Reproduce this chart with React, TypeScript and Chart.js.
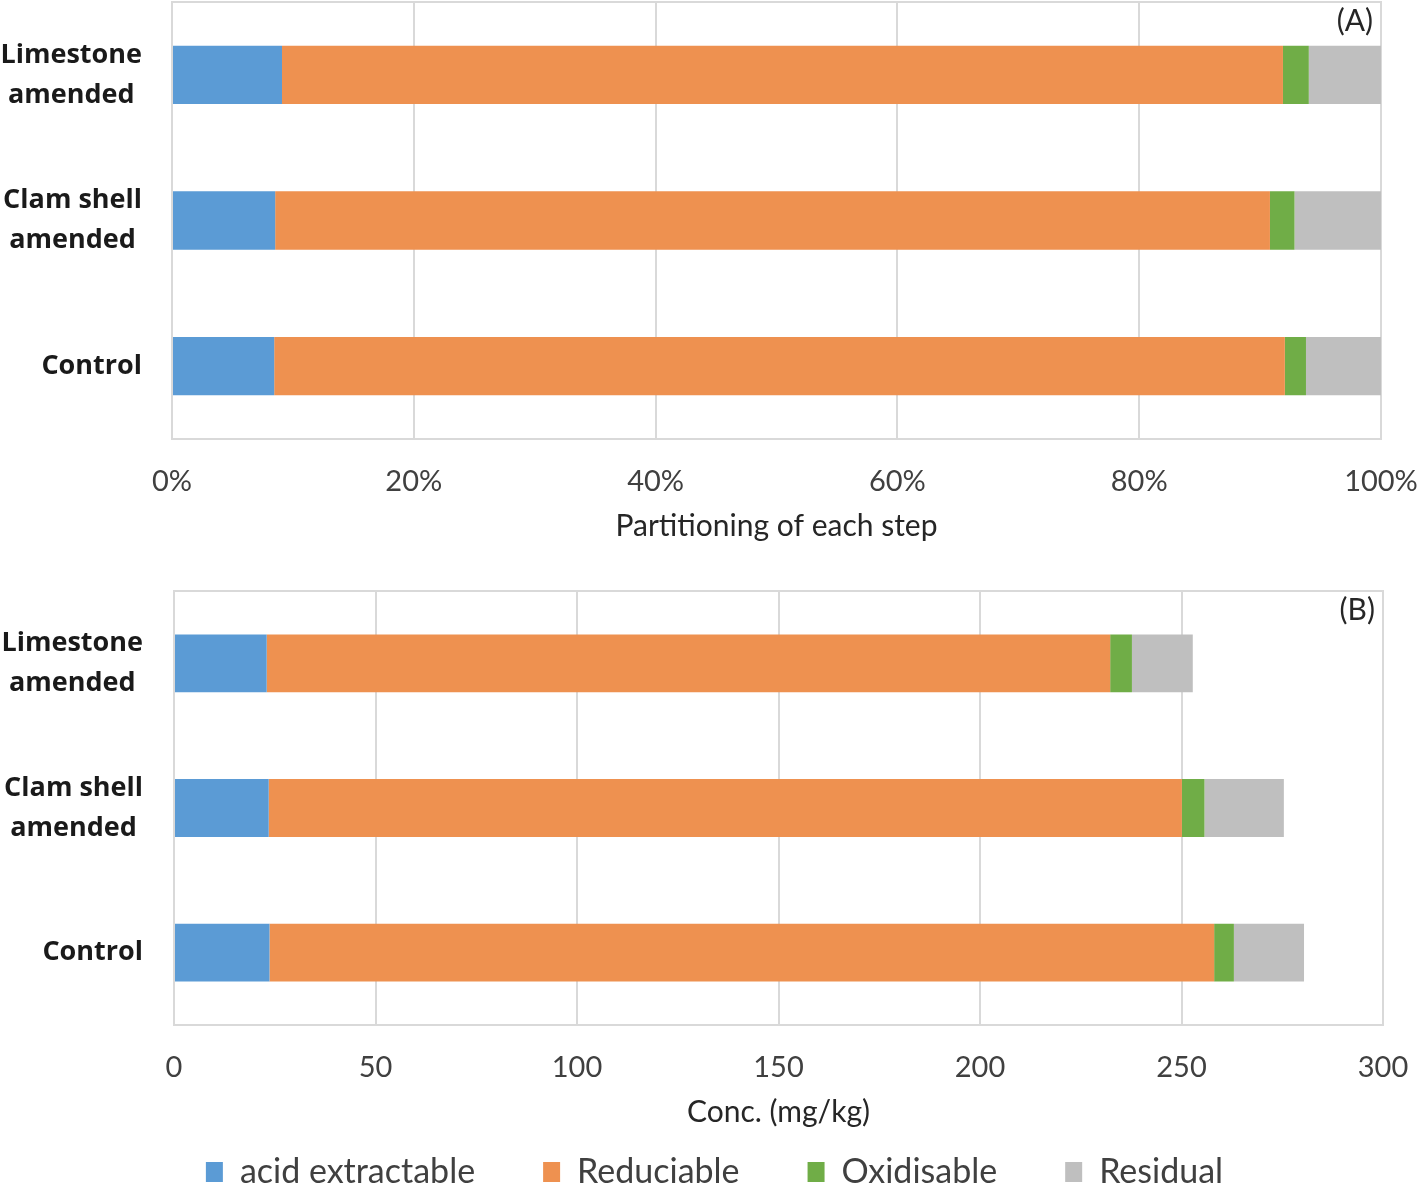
import React, { useEffect, useRef } from 'react';
import { Chart, registerables } from 'chart.js';

Chart.register(...registerables);

// Treatments (top to bottom), each split over two lines where needed
const categories: string[][] = [['Limestone', 'amended'], ['Clam shell', 'amended'], ['Control']];

// Sequential extraction fractions, mg/kg
const seriesNames = ['acid extractable', 'Reduciable', 'Oxidisable', 'Residual'];
const seriesColors = ['#5B9BD5', '#EE9150', '#70AD47', '#BFBFBF'];
const acidExtractable = [23.0, 23.5, 23.7];
const reducible = [209.3, 226.6, 234.4];
const oxidisable = [5.4, 5.6, 4.9];
const residual = [15.1, 19.7, 17.4];

// Axis settings
const percentMax = 100;
const percentStep = 20;
const concMax = 300;
const concStep = 50;
const percentTitle = 'Partitioning of each step';
const concTitle = 'Conc. (mg/kg)';

const FONT = 'Lato, "Open Sans", sans-serif';
const LABEL_FONT = '"Open Sans", Lato, sans-serif';
const GRID = '#D9D9D9';
const TEXT = '#404040';

const fractions = [acidExtractable, reducible, oxidisable, residual];
const totals = categories.map((_, i) => fractions.reduce((s, f) => s + f[i], 0));
const percentFractions = fractions.map((f) => f.map((v, i) => (v / totals[i]) * 100));

// Frame around the plot area, bold category labels and the panel tag
const panelDecor = {
  id: 'panelDecor',
  beforeDatasetsDraw(chart: any) {
    const { ctx, chartArea: a } = chart;
    ctx.save();
    ctx.strokeStyle = GRID;
    ctx.lineWidth = 2;
    ctx.strokeRect(a.left, a.top, a.right - a.left, a.bottom - a.top);
    ctx.restore();
  },
  afterDraw(chart: any, _args: any, opts: any) {
    const { ctx, chartArea: a } = chart;
    const yScale = chart.scales.y;
    ctx.save();
    ctx.fillStyle = '#1A1A1A';
    ctx.font = `bold 27px ${LABEL_FONT}`;
    ctx.textAlign = 'center';
    ctx.textBaseline = 'middle';
    const right = a.left - opts.labelGap;
    categories.forEach((lines, i) => {
      const cy = yScale.getPixelForValue(i);
      const w = Math.max(...lines.map((l) => ctx.measureText(l).width));
      const cx = right - w / 2;
      lines.forEach((line, j) => {
        ctx.fillText(line, cx, cy + (j - (lines.length - 1) / 2) * 40);
      });
    });
    ctx.fillStyle = '#262626';
    ctx.font = `30px ${FONT}`;
    ctx.textAlign = 'right';
    ctx.fillText(opts.tag, a.right - 8, a.top + 19);
    ctx.restore();
  },
};

function makeDatasets(values: number[][]) {
  return values.map((data, k) => ({
    label: seriesNames[k],
    data,
    backgroundColor: seriesColors[k],
    borderWidth: 0,
    barPercentage: 0.4,
    categoryPercentage: 1,
  }));
}

// Blank axis used only to reserve a fixed strip of width at one side
function spacerAxis(position: string, width: number, type: string) {
  return {
    type,
    position,
    display: true,
    grid: { display: false },
    border: { display: false },
    ticks: { display: false },
    afterFit: (s: any) => {
      s.width = width;
    },
  };
}

// Fixed-height value axis; end labels may spill into the side strips
function fixHeight(height: number) {
  return (s: any) => {
    s.height = height;
    s.paddingLeft = 0;
    s.paddingRight = 0;
  };
}

export default function App() {
  const topRef = useRef<HTMLCanvasElement>(null);
  const bottomRef = useRef<HTMLCanvasElement>(null);

  useEffect(() => {
    const labels = categories.map((c) => c.join(' '));

    const top = new Chart(topRef.current!, {
      type: 'bar',
      data: { labels, datasets: makeDatasets(percentFractions) },
      plugins: [panelDecor],
      options: {
        indexAxis: 'y',
        responsive: false,
        animation: false,
        layout: { padding: { left: 0, right: 0, top: 2, bottom: 0 } },
        plugins: {
          legend: { display: false },
          tooltip: { enabled: false },
          panelDecor: { tag: '(A)', labelGap: 30 },
        } as any,
        scales: {
          x: {
            stacked: true,
            min: 0,
            max: percentMax,
            border: { display: false },
            grid: { color: GRID, lineWidth: 2, drawTicks: false },
            ticks: {
              stepSize: percentStep,
              padding: 25,
              color: TEXT,
              font: { family: FONT, size: 29 },
              callback: (v: any) => `${v}%`,
            },
            title: {
              display: true,
              text: percentTitle,
              color: '#262626',
              font: { family: FONT, size: 30 },
              padding: { top: 0, bottom: 16 },
            },
            afterFit: fixHeight(121),
          },
          y: { stacked: true, ...spacerAxis('left', 172, 'category') },
          yRight: spacerAxis('right', 38, 'linear'),
        } as any,
      },
    });

    const bottom = new Chart(bottomRef.current!, {
      type: 'bar',
      data: { labels, datasets: makeDatasets(fractions) },
      plugins: [panelDecor],
      options: {
        indexAxis: 'y',
        responsive: false,
        animation: false,
        layout: { padding: { left: 10, right: 0, top: 31, bottom: 0 } },
        plugins: {
          legend: {
            display: true,
            position: 'bottom',
            labels: {
              boxWidth: 17,
              boxHeight: 20,
              padding: 68,
              color: TEXT,
              font: { family: FONT, size: 34 },
            },
          },
          tooltip: { enabled: false },
          panelDecor: { tag: '(B)', labelGap: 31 },
        } as any,
        scales: {
          x: {
            stacked: true,
            min: 0,
            max: concMax,
            border: { display: false },
            grid: { color: GRID, lineWidth: 2, drawTicks: false },
            ticks: {
              stepSize: concStep,
              padding: 25,
              color: TEXT,
              font: { family: FONT, size: 29 },
            },
            title: {
              display: true,
              text: concTitle,
              color: '#262626',
              font: { family: FONT, size: 30 },
              padding: { top: 0, bottom: -43 },
            },
            afterFit: fixHeight(62),
          },
          y: { stacked: true, ...spacerAxis('left', 164, 'category') },
          yRight: spacerAxis('right', 36, 'linear'),
        } as any,
      },
    });

    return () => {
      top.destroy();
      bottom.destroy();
    };
  }, []);

  return (
    <div
      style={{
        position: 'fixed',
        top: 0,
        left: 0,
        width: 1419,
        height: 1186,
        overflow: 'hidden',
        background: '#FFFFFF',
      }}
    >
      <canvas ref={topRef} width={1419} height={560} style={{ position: 'absolute', top: 0, left: 0 }} />
      <canvas ref={bottomRef} width={1419} height={639} style={{ position: 'absolute', top: 560, left: 0 }} />
    </div>
  );
}
